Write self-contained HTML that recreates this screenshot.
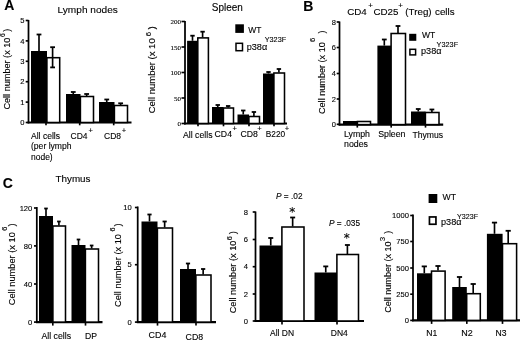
<!DOCTYPE html>
<html><head><meta charset="utf-8"><title>Figure</title>
<style>html,body{margin:0;padding:0;background:#fff}svg{display:block}text{font-family:"Liberation Sans", sans-serif}</style>
</head><body>
<svg width="520" height="340" viewBox="0 0 520 340">
<defs><filter id="soft" x="0" y="0" width="520" height="340" filterUnits="userSpaceOnUse"><feGaussianBlur stdDeviation="0.42"/></filter></defs>
<rect x="0" y="0" width="520" height="340" fill="#fff"/>
<g filter="url(#soft)">
<text x="4.3" y="10" font-size="14" font-weight="bold" fill="#000" stroke="#000" stroke-width="0.12">A</text>
<text x="57.6" y="13.2" font-size="9.9" textLength="60.2" lengthAdjust="spacingAndGlyphs" fill="#000" stroke="#000" stroke-width="0.12">Lymph nodes</text>
<line x1="28.5" y1="20" x2="28.5" y2="123.4" stroke="#000" stroke-width="1.75"/>
<line x1="27.6" y1="122.5" x2="131.5" y2="122.5" stroke="#000" stroke-width="2.15"/>
<line x1="25.7" y1="20.5" x2="28.5" y2="20.5" stroke="#000" stroke-width="1.65"/>
<text x="24.5" y="23.24" font-size="7.6" text-anchor="end" fill="#000" stroke="#000" stroke-width="0.12">5</text>
<line x1="25.7" y1="40.9" x2="28.5" y2="40.9" stroke="#000" stroke-width="1.65"/>
<text x="24.5" y="43.64" font-size="7.6" text-anchor="end" fill="#000" stroke="#000" stroke-width="0.12">4</text>
<line x1="25.7" y1="61.3" x2="28.5" y2="61.3" stroke="#000" stroke-width="1.65"/>
<text x="24.5" y="64.04" font-size="7.6" text-anchor="end" fill="#000" stroke="#000" stroke-width="0.12">3</text>
<line x1="25.7" y1="81.7" x2="28.5" y2="81.7" stroke="#000" stroke-width="1.65"/>
<text x="24.5" y="84.44" font-size="7.6" text-anchor="end" fill="#000" stroke="#000" stroke-width="0.12">2</text>
<line x1="25.7" y1="102.1" x2="28.5" y2="102.1" stroke="#000" stroke-width="1.65"/>
<text x="24.5" y="104.84" font-size="7.6" text-anchor="end" fill="#000" stroke="#000" stroke-width="0.12">1</text>
<line x1="25.7" y1="122.5" x2="28.5" y2="122.5" stroke="#000" stroke-width="1.65"/>
<text x="24.5" y="125.24" font-size="7.6" text-anchor="end" fill="#000" stroke="#000" stroke-width="0.12">0</text>
<line x1="46" y1="122.5" x2="46" y2="125.3" stroke="#000" stroke-width="1.65"/>
<line x1="79.7" y1="122.5" x2="79.7" y2="125.3" stroke="#000" stroke-width="1.65"/>
<line x1="113.7" y1="122.5" x2="113.7" y2="125.3" stroke="#000" stroke-width="1.65"/>
<line x1="39.0" y1="34.5" x2="39.0" y2="51" stroke="#000" stroke-width="1.65"/>
<line x1="36.6" y1="34.5" x2="41.4" y2="34.5" stroke="#000" stroke-width="1.8"/>
<rect x="31" y="51" width="16" height="71.5" fill="#000"/>
<line x1="52.6" y1="47.2" x2="52.6" y2="57.2" stroke="#000" stroke-width="1.65"/>
<line x1="50.2" y1="47.2" x2="55.0" y2="47.2" stroke="#000" stroke-width="1.8"/>
<rect x="46.9" y="57.7" width="12.8" height="64.8" fill="#fff" stroke="#000" stroke-width="1.55"/>
<line x1="52.6" y1="57.2" x2="52.6" y2="67.4" stroke="#000" stroke-width="1.65"/>
<line x1="50.2" y1="67.4" x2="55.0" y2="67.4" stroke="#000" stroke-width="1.8"/>
<line x1="73.25" y1="92" x2="73.25" y2="94" stroke="#000" stroke-width="1.65"/>
<line x1="70.85" y1="92" x2="75.65" y2="92" stroke="#000" stroke-width="1.8"/>
<rect x="66" y="94" width="14.5" height="28.5" fill="#000"/>
<line x1="86.65" y1="94" x2="86.65" y2="96" stroke="#000" stroke-width="1.65"/>
<line x1="84.25" y1="94" x2="89.05000000000001" y2="94" stroke="#000" stroke-width="1.8"/>
<rect x="80.4" y="96.5" width="13.1" height="26.0" fill="#fff" stroke="#000" stroke-width="1.55"/>
<line x1="106.75" y1="99.5" x2="106.75" y2="102" stroke="#000" stroke-width="1.65"/>
<line x1="104.35" y1="99.5" x2="109.15" y2="99.5" stroke="#000" stroke-width="1.8"/>
<rect x="99" y="102" width="15.5" height="20.5" fill="#000"/>
<line x1="120.65" y1="103.3" x2="120.65" y2="105" stroke="#000" stroke-width="1.65"/>
<line x1="118.25" y1="103.3" x2="123.05000000000001" y2="103.3" stroke="#000" stroke-width="1.8"/>
<rect x="114.4" y="105.5" width="13.1" height="17.0" fill="#fff" stroke="#000" stroke-width="1.55"/>
<text x="31" y="138.5" font-size="8.5" textLength="29" lengthAdjust="spacingAndGlyphs" fill="#000" stroke="#000" stroke-width="0.12">All cells</text>
<text x="31" y="149" font-size="8.5" textLength="40.5" lengthAdjust="spacingAndGlyphs" fill="#000" stroke="#000" stroke-width="0.12">(per lymph</text>
<text x="31" y="159.5" font-size="8.5" textLength="21.7" lengthAdjust="spacingAndGlyphs" fill="#000" stroke="#000" stroke-width="0.12">node)</text>
<text x="70.5" y="138.5" font-size="8.5" textLength="17" lengthAdjust="spacingAndGlyphs" fill="#000" stroke="#000" stroke-width="0.12">CD4</text>
<text x="88.38" y="132.75" font-size="7.6" fill="#000" stroke="#000" stroke-width="0.12">+</text>
<text x="104" y="138.5" font-size="8.5" textLength="17" lengthAdjust="spacingAndGlyphs" fill="#000" stroke="#000" stroke-width="0.12">CD8</text>
<text x="121.78" y="132.75" font-size="7.6" fill="#000" stroke="#000" stroke-width="0.12">+</text>
<text x="10.3" y="109.6" font-size="9.1" textLength="72.0" lengthAdjust="spacingAndGlyphs" transform="rotate(-90 10.3 109.6)" fill="#000" stroke="#000" stroke-width="0.12">Cell number (x 10</text>
<text x="5.2" y="36.9" font-size="6.82" transform="rotate(-90 5.2 36.9)" fill="#000" stroke="#000" stroke-width="0.12">6</text>
<text x="10.3" y="31.8" font-size="9.1" transform="rotate(-90 10.3 31.8)" fill="#000" stroke="#000" stroke-width="0.12">)</text>
<text x="211.8" y="11.3" font-size="10" textLength="31" lengthAdjust="spacingAndGlyphs" fill="#000" stroke="#000" stroke-width="0.12">Spleen</text>
<line x1="185" y1="21" x2="185" y2="124.4" stroke="#000" stroke-width="1.75"/>
<line x1="184.1" y1="123.5" x2="287" y2="123.5" stroke="#000" stroke-width="2.15"/>
<line x1="181.5" y1="21.5" x2="185" y2="21.5" stroke="#000" stroke-width="1.65"/>
<text x="181.1" y="24.02" font-size="7" text-anchor="end" style='font-family:"Liberation Serif", serif' fill="#000" stroke="#000" stroke-width="0.12">200</text>
<line x1="181.5" y1="47" x2="185" y2="47" stroke="#000" stroke-width="1.65"/>
<text x="181.1" y="49.52" font-size="7" text-anchor="end" style='font-family:"Liberation Serif", serif' fill="#000" stroke="#000" stroke-width="0.12">150</text>
<line x1="181.5" y1="72.5" x2="185" y2="72.5" stroke="#000" stroke-width="1.65"/>
<text x="181.1" y="75.02" font-size="7" text-anchor="end" style='font-family:"Liberation Serif", serif' fill="#000" stroke="#000" stroke-width="0.12">100</text>
<line x1="181.5" y1="98" x2="185" y2="98" stroke="#000" stroke-width="1.65"/>
<text x="181.1" y="100.52" font-size="7" text-anchor="end" style='font-family:"Liberation Serif", serif' fill="#000" stroke="#000" stroke-width="0.12">50</text>
<line x1="181.5" y1="123.5" x2="185" y2="123.5" stroke="#000" stroke-width="1.65"/>
<text x="181.1" y="126.02" font-size="7" text-anchor="end" style='font-family:"Liberation Serif", serif' fill="#000" stroke="#000" stroke-width="0.12">0</text>
<line x1="198" y1="123.5" x2="198" y2="126.3" stroke="#000" stroke-width="1.65"/>
<line x1="223.5" y1="123.5" x2="223.5" y2="126.3" stroke="#000" stroke-width="1.65"/>
<line x1="249" y1="123.5" x2="249" y2="126.3" stroke="#000" stroke-width="1.65"/>
<line x1="274" y1="123.5" x2="274" y2="126.3" stroke="#000" stroke-width="1.65"/>
<line x1="192.5" y1="35.7" x2="192.5" y2="40.8" stroke="#000" stroke-width="1.65"/>
<line x1="190.3" y1="35.7" x2="194.7" y2="35.7" stroke="#000" stroke-width="1.8"/>
<rect x="187.1" y="40.8" width="10.9" height="82.7" fill="#000"/>
<line x1="202.6" y1="31.7" x2="202.6" y2="37.4" stroke="#000" stroke-width="1.65"/>
<line x1="200.4" y1="31.7" x2="204.79999999999998" y2="31.7" stroke="#000" stroke-width="1.8"/>
<rect x="197.8" y="37.9" width="10.6" height="85.6" fill="#fff" stroke="#000" stroke-width="1.55"/>
<line x1="217.75" y1="105" x2="217.75" y2="107" stroke="#000" stroke-width="1.65"/>
<line x1="215.55" y1="105" x2="219.95" y2="105" stroke="#000" stroke-width="1.8"/>
<rect x="212" y="107" width="11.5" height="16.5" fill="#000"/>
<line x1="228.14999999999998" y1="106" x2="228.14999999999998" y2="107.5" stroke="#000" stroke-width="1.65"/>
<line x1="225.95" y1="106" x2="230.34999999999997" y2="106" stroke="#000" stroke-width="1.8"/>
<rect x="223.4" y="108.0" width="10.1" height="15.5" fill="#fff" stroke="#000" stroke-width="1.55"/>
<line x1="243.25" y1="110.5" x2="243.25" y2="114.5" stroke="#000" stroke-width="1.65"/>
<line x1="241.05" y1="110.5" x2="245.45" y2="110.5" stroke="#000" stroke-width="1.8"/>
<rect x="237.5" y="114.5" width="11.5" height="9.0" fill="#000"/>
<line x1="253.89999999999998" y1="112" x2="253.89999999999998" y2="116" stroke="#000" stroke-width="1.65"/>
<line x1="251.7" y1="112" x2="256.09999999999997" y2="112" stroke="#000" stroke-width="1.8"/>
<rect x="248.9" y="116.5" width="10.6" height="7.0" fill="#fff" stroke="#000" stroke-width="1.55"/>
<line x1="268.5" y1="72" x2="268.5" y2="73.5" stroke="#000" stroke-width="1.65"/>
<line x1="266.3" y1="72" x2="270.7" y2="72" stroke="#000" stroke-width="1.8"/>
<rect x="263" y="73.5" width="11" height="50.0" fill="#000"/>
<line x1="278.9" y1="69" x2="278.9" y2="72.5" stroke="#000" stroke-width="1.65"/>
<line x1="276.7" y1="69" x2="281.09999999999997" y2="69" stroke="#000" stroke-width="1.8"/>
<rect x="273.9" y="73.0" width="10.6" height="50.5" fill="#fff" stroke="#000" stroke-width="1.55"/>
<text x="183" y="137.5" font-size="8.5" textLength="29.5" lengthAdjust="spacingAndGlyphs" fill="#000" stroke="#000" stroke-width="0.12">All cells</text>
<text x="214.6" y="137.4" font-size="8.7" textLength="17.4" lengthAdjust="spacingAndGlyphs" fill="#000" stroke="#000" stroke-width="0.12">CD4</text>
<text x="232.38" y="131.15" font-size="7.6" fill="#000" stroke="#000" stroke-width="0.12">+</text>
<text x="240.4" y="137.4" font-size="8.7" textLength="17.4" lengthAdjust="spacingAndGlyphs" fill="#000" stroke="#000" stroke-width="0.12">CD8</text>
<text x="257.18" y="131.15" font-size="7.6" fill="#000" stroke="#000" stroke-width="0.12">+</text>
<text x="265.8" y="137.4" font-size="8.7" textLength="19.4" lengthAdjust="spacingAndGlyphs" fill="#000" stroke="#000" stroke-width="0.12">B220</text>
<text x="284.78" y="131.15" font-size="7.6" fill="#000" stroke="#000" stroke-width="0.12">+</text>
<text x="155.3" y="113.3" font-size="9.5" textLength="75.0" lengthAdjust="spacingAndGlyphs" transform="rotate(-90 155.3 113.3)" fill="#000" stroke="#000" stroke-width="0.12">Cell number (x 10</text>
<text x="150.6" y="36.2" font-size="7.6" transform="rotate(-90 150.6 36.2)" fill="#000" stroke="#000" stroke-width="0.12">6</text>
<text x="155.3" y="29.4" font-size="9.5" transform="rotate(-90 155.3 29.4)" fill="#000" stroke="#000" stroke-width="0.12">)</text>
<rect x="235.3" y="24.3" width="8.6" height="8.6" fill="#000" stroke="#000" stroke-width="0"/>
<text x="248.2" y="32.5" font-size="8.6" textLength="13.2" lengthAdjust="spacingAndGlyphs" fill="#000" stroke="#000" stroke-width="0.12">WT</text>
<rect x="236" y="43.3" width="6.5" height="7.4" fill="#fff" stroke="#000" stroke-width="1.5"/>
<text x="246.7" y="49.8" font-size="8.8" textLength="20.5" lengthAdjust="spacingAndGlyphs" fill="#000" stroke="#000" stroke-width="0.12">p38α</text>
<text x="264.7" y="42.3" font-size="7.4" textLength="21.5" lengthAdjust="spacingAndGlyphs" fill="#000" stroke="#000" stroke-width="0.12">Y323F</text>
<text x="303.3" y="10.8" font-size="14" font-weight="bold" fill="#000" stroke="#000" stroke-width="0.12">B</text>
<text x="347.2" y="15.3" font-size="9.8" fill="#000" stroke="#000" stroke-width="0.12">CD4</text>
<text x="368.36" y="8.08" font-size="8" fill="#000" stroke="#000" stroke-width="0.12">+</text>
<text x="373.4" y="15.3" font-size="9.8" fill="#000" stroke="#000" stroke-width="0.12">CD25</text>
<text x="398.36" y="8.08" font-size="8" fill="#000" stroke="#000" stroke-width="0.12">+</text>
<text x="405.3" y="15.3" font-size="9.8" fill="#000" stroke="#000" stroke-width="0.12">(Treg)</text>
<text x="435" y="15.3" font-size="9.8" fill="#000" stroke="#000" stroke-width="0.12">cells</text>
<line x1="339.5" y1="21.5" x2="339.5" y2="125.5" stroke="#000" stroke-width="1.75"/>
<line x1="338.6" y1="124.6" x2="443.2" y2="124.6" stroke="#000" stroke-width="2.15"/>
<line x1="336.7" y1="22" x2="339.5" y2="22" stroke="#000" stroke-width="1.65"/>
<text x="336.0" y="24.7" font-size="7.5" text-anchor="end" fill="#000" stroke="#000" stroke-width="0.12">8</text>
<line x1="336.7" y1="47.5" x2="339.5" y2="47.5" stroke="#000" stroke-width="1.65"/>
<text x="336.0" y="50.2" font-size="7.5" text-anchor="end" fill="#000" stroke="#000" stroke-width="0.12">6</text>
<line x1="336.7" y1="73.5" x2="339.5" y2="73.5" stroke="#000" stroke-width="1.65"/>
<text x="336.0" y="76.2" font-size="7.5" text-anchor="end" fill="#000" stroke="#000" stroke-width="0.12">4</text>
<line x1="336.7" y1="99" x2="339.5" y2="99" stroke="#000" stroke-width="1.65"/>
<text x="336.0" y="101.7" font-size="7.5" text-anchor="end" fill="#000" stroke="#000" stroke-width="0.12">2</text>
<line x1="336.7" y1="124.3" x2="339.5" y2="124.3" stroke="#000" stroke-width="1.65"/>
<text x="336.0" y="127.0" font-size="7.5" text-anchor="end" fill="#000" stroke="#000" stroke-width="0.12">0</text>
<line x1="357.3" y1="124.6" x2="357.3" y2="127.6" stroke="#000" stroke-width="1.65"/>
<line x1="391.2" y1="124.6" x2="391.2" y2="127.6" stroke="#000" stroke-width="1.65"/>
<line x1="425.5" y1="124.6" x2="425.5" y2="127.6" stroke="#000" stroke-width="1.65"/>
<rect x="343" y="121" width="14.5" height="3.6" fill="#000"/>
<rect x="357.4" y="121.5" width="13.1" height="3.1" fill="#fff" stroke="#000" stroke-width="1.55"/>
<line x1="384.29999999999995" y1="39.5" x2="384.29999999999995" y2="45.6" stroke="#000" stroke-width="1.65"/>
<line x1="381.9" y1="39.5" x2="386.69999999999993" y2="39.5" stroke="#000" stroke-width="1.8"/>
<rect x="377.4" y="45.6" width="13.8" height="79.0" fill="#000"/>
<line x1="397.99999999999994" y1="26" x2="397.99999999999994" y2="33" stroke="#000" stroke-width="1.65"/>
<line x1="395.59999999999997" y1="26" x2="400.3999999999999" y2="26" stroke="#000" stroke-width="1.8"/>
<rect x="391.09999999999997" y="33.5" width="14.4" height="91.1" fill="#fff" stroke="#000" stroke-width="1.55"/>
<line x1="418.25" y1="109" x2="418.25" y2="111.5" stroke="#000" stroke-width="1.65"/>
<line x1="415.85" y1="109" x2="420.65" y2="109" stroke="#000" stroke-width="1.8"/>
<rect x="411" y="111.5" width="14.5" height="13.1" fill="#000"/>
<line x1="431.9" y1="109.5" x2="431.9" y2="112" stroke="#000" stroke-width="1.65"/>
<line x1="429.5" y1="109.5" x2="434.29999999999995" y2="109.5" stroke="#000" stroke-width="1.8"/>
<rect x="425.4" y="112.5" width="13.6" height="12.1" fill="#fff" stroke="#000" stroke-width="1.55"/>
<text x="344" y="137" font-size="8.5" textLength="26" lengthAdjust="spacingAndGlyphs" fill="#000" stroke="#000" stroke-width="0.12">Lymph</text>
<text x="344" y="147" font-size="8.5" textLength="24" lengthAdjust="spacingAndGlyphs" fill="#000" stroke="#000" stroke-width="0.12">nodes</text>
<text x="378.2" y="137" font-size="8.6" textLength="27.3" lengthAdjust="spacingAndGlyphs" fill="#000" stroke="#000" stroke-width="0.12">Spleen</text>
<text x="412.4" y="138" font-size="8.6" textLength="30.6" lengthAdjust="spacingAndGlyphs" fill="#000" stroke="#000" stroke-width="0.12">Thymus</text>
<text x="324.6" y="114" font-size="9.1" textLength="71.8" lengthAdjust="spacingAndGlyphs" transform="rotate(-90 324.6 114)" fill="#000" stroke="#000" stroke-width="0.12">Cell number (x 10</text>
<text x="315.1" y="41.9" font-size="7.6" transform="rotate(-90 315.1 41.9)" fill="#000" stroke="#000" stroke-width="0.12">6</text>
<text x="324.6" y="33.4" font-size="9.1" transform="rotate(-90 324.6 33.4)" fill="#000" stroke="#000" stroke-width="0.12">)</text>
<rect x="409.2" y="33.8" width="7.1" height="7.0" fill="#000" stroke="#000" stroke-width="0"/>
<text x="421.9" y="38.2" font-size="8.6" textLength="13.3" lengthAdjust="spacingAndGlyphs" fill="#000" stroke="#000" stroke-width="0.12">WT</text>
<rect x="409.9" y="49.3" width="5.7" height="5.6" fill="#fff" stroke="#000" stroke-width="1.5"/>
<text x="421" y="53.8" font-size="8.8" textLength="20.5" lengthAdjust="spacingAndGlyphs" fill="#000" stroke="#000" stroke-width="0.12">p38α</text>
<text x="436.6" y="47.1" font-size="7.4" textLength="21.5" lengthAdjust="spacingAndGlyphs" fill="#000" stroke="#000" stroke-width="0.12">Y323F</text>
<text x="2.8" y="188.3" font-size="14" font-weight="bold" fill="#000" stroke="#000" stroke-width="0.12">C</text>
<text x="55.5" y="182" font-size="9.8" textLength="35" lengthAdjust="spacingAndGlyphs" fill="#000" stroke="#000" stroke-width="0.12">Thymus</text>
<line x1="36.8" y1="207" x2="36.8" y2="323.0" stroke="#000" stroke-width="1.75"/>
<line x1="35.9" y1="322.1" x2="102.5" y2="322.1" stroke="#000" stroke-width="2.15"/>
<line x1="34.0" y1="208" x2="36.8" y2="208" stroke="#000" stroke-width="1.65"/>
<text x="32.3" y="210.74" font-size="7.6" text-anchor="end" fill="#000" stroke="#000" stroke-width="0.12">120</text>
<line x1="34.0" y1="245.9" x2="36.8" y2="245.9" stroke="#000" stroke-width="1.65"/>
<text x="32.3" y="248.64" font-size="7.6" text-anchor="end" fill="#000" stroke="#000" stroke-width="0.12">80</text>
<line x1="34.0" y1="284" x2="36.8" y2="284" stroke="#000" stroke-width="1.65"/>
<text x="32.3" y="286.74" font-size="7.6" text-anchor="end" fill="#000" stroke="#000" stroke-width="0.12">40</text>
<line x1="34.0" y1="322.1" x2="36.8" y2="322.1" stroke="#000" stroke-width="1.65"/>
<text x="32.3" y="324.84" font-size="7.6" text-anchor="end" fill="#000" stroke="#000" stroke-width="0.12">0</text>
<line x1="52.8" y1="322.1" x2="52.8" y2="325.6" stroke="#000" stroke-width="1.65"/>
<line x1="85.5" y1="322.1" x2="85.5" y2="325.6" stroke="#000" stroke-width="1.65"/>
<line x1="46.0" y1="208.5" x2="46.0" y2="216" stroke="#000" stroke-width="1.65"/>
<line x1="44.2" y1="208.5" x2="47.8" y2="208.5" stroke="#000" stroke-width="1.8"/>
<rect x="39" y="216" width="14" height="106.1" fill="#000"/>
<line x1="58.900000000000006" y1="221.5" x2="58.900000000000006" y2="225.5" stroke="#000" stroke-width="1.65"/>
<line x1="57.10000000000001" y1="221.5" x2="60.7" y2="221.5" stroke="#000" stroke-width="1.8"/>
<rect x="52.9" y="226.0" width="12.6" height="96.1" fill="#fff" stroke="#000" stroke-width="1.55"/>
<line x1="78.5" y1="239.5" x2="78.5" y2="245" stroke="#000" stroke-width="1.65"/>
<line x1="76.7" y1="239.5" x2="80.3" y2="239.5" stroke="#000" stroke-width="1.8"/>
<rect x="71.5" y="245" width="14.0" height="77.1" fill="#000"/>
<line x1="91.65" y1="245.5" x2="91.65" y2="248.5" stroke="#000" stroke-width="1.65"/>
<line x1="89.85000000000001" y1="245.5" x2="93.45" y2="245.5" stroke="#000" stroke-width="1.8"/>
<rect x="85.4" y="249.0" width="13.1" height="73.1" fill="#fff" stroke="#000" stroke-width="1.55"/>
<text x="41.5" y="338.5" font-size="8.6" textLength="29.5" lengthAdjust="spacingAndGlyphs" fill="#000" stroke="#000" stroke-width="0.12">All cells</text>
<text x="85" y="338.5" font-size="8.8" textLength="12" lengthAdjust="spacingAndGlyphs" fill="#000" stroke="#000" stroke-width="0.12">DP</text>
<text x="14.6" y="305.2" font-size="9.25" textLength="73.0" lengthAdjust="spacingAndGlyphs" transform="rotate(-90 14.6 305.2)" fill="#000" stroke="#000" stroke-width="0.12">Cell number (x 10</text>
<text x="7.4" y="230.8" font-size="7.4" transform="rotate(-90 7.4 230.8)" fill="#000" stroke="#000" stroke-width="0.12">6</text>
<text x="14.6" y="226.4" font-size="9.25" transform="rotate(-90 14.6 226.4)" fill="#000" stroke="#000" stroke-width="0.12">)</text>
<line x1="137.7" y1="206.5" x2="137.7" y2="323.0" stroke="#000" stroke-width="1.75"/>
<line x1="136.79999999999998" y1="322.1" x2="216" y2="322.1" stroke="#000" stroke-width="2.15"/>
<line x1="134.89999999999998" y1="207.5" x2="137.7" y2="207.5" stroke="#000" stroke-width="1.65"/>
<text x="131.7" y="210.24" font-size="7.6" text-anchor="end" fill="#000" stroke="#000" stroke-width="0.12">10</text>
<line x1="134.89999999999998" y1="264.7" x2="137.7" y2="264.7" stroke="#000" stroke-width="1.65"/>
<text x="131.7" y="267.44" font-size="7.6" text-anchor="end" fill="#000" stroke="#000" stroke-width="0.12">5</text>
<line x1="134.89999999999998" y1="322.1" x2="137.7" y2="322.1" stroke="#000" stroke-width="1.65"/>
<text x="131.7" y="324.84" font-size="7.6" text-anchor="end" fill="#000" stroke="#000" stroke-width="0.12">0</text>
<line x1="157.5" y1="322.1" x2="157.5" y2="325.6" stroke="#000" stroke-width="1.65"/>
<line x1="196" y1="322.1" x2="196" y2="325.6" stroke="#000" stroke-width="1.65"/>
<line x1="149.5" y1="214.5" x2="149.5" y2="221.5" stroke="#000" stroke-width="1.65"/>
<line x1="147.4" y1="214.5" x2="151.6" y2="214.5" stroke="#000" stroke-width="1.8"/>
<rect x="141.5" y="221.5" width="16.0" height="100.6" fill="#000"/>
<line x1="164.64999999999998" y1="221.5" x2="164.64999999999998" y2="227.5" stroke="#000" stroke-width="1.65"/>
<line x1="162.54999999999998" y1="221.5" x2="166.74999999999997" y2="221.5" stroke="#000" stroke-width="1.8"/>
<rect x="157.4" y="228.0" width="15.1" height="94.1" fill="#fff" stroke="#000" stroke-width="1.55"/>
<line x1="188.0" y1="263.5" x2="188.0" y2="269" stroke="#000" stroke-width="1.65"/>
<line x1="185.9" y1="263.5" x2="190.1" y2="263.5" stroke="#000" stroke-width="1.8"/>
<rect x="180" y="269" width="16" height="53.1" fill="#000"/>
<line x1="203.14999999999998" y1="269" x2="203.14999999999998" y2="274.5" stroke="#000" stroke-width="1.65"/>
<line x1="201.04999999999998" y1="269" x2="205.24999999999997" y2="269" stroke="#000" stroke-width="1.8"/>
<rect x="195.9" y="275.0" width="15.1" height="47.1" fill="#fff" stroke="#000" stroke-width="1.55"/>
<text x="148.6" y="338" font-size="8.6" textLength="17.8" lengthAdjust="spacingAndGlyphs" fill="#000" stroke="#000" stroke-width="0.12">CD4</text>
<text x="185.6" y="339.5" font-size="8.6" textLength="17.6" lengthAdjust="spacingAndGlyphs" fill="#000" stroke="#000" stroke-width="0.12">CD8</text>
<text x="121.2" y="307" font-size="9.25" textLength="73" lengthAdjust="spacingAndGlyphs" transform="rotate(-90 121.2 307)" fill="#000" stroke="#000" stroke-width="0.12">Cell number (x 10</text>
<text x="115.2" y="231.6" font-size="7.4" transform="rotate(-90 115.2 231.6)" fill="#000" stroke="#000" stroke-width="0.12">6</text>
<text x="121.2" y="226.4" font-size="9.25" transform="rotate(-90 121.2 226.4)" fill="#000" stroke="#000" stroke-width="0.12">)</text>
<line x1="255.5" y1="211.5" x2="255.5" y2="321.9" stroke="#000" stroke-width="1.75"/>
<line x1="254.6" y1="321" x2="364" y2="321" stroke="#000" stroke-width="2.15"/>
<line x1="252.7" y1="212" x2="255.5" y2="212" stroke="#000" stroke-width="1.65"/>
<text x="248.1" y="214.74" font-size="7.6" text-anchor="end" fill="#000" stroke="#000" stroke-width="0.12">8</text>
<line x1="252.7" y1="239.5" x2="255.5" y2="239.5" stroke="#000" stroke-width="1.65"/>
<text x="248.1" y="242.24" font-size="7.6" text-anchor="end" fill="#000" stroke="#000" stroke-width="0.12">6</text>
<line x1="252.7" y1="266.7" x2="255.5" y2="266.7" stroke="#000" stroke-width="1.65"/>
<text x="248.1" y="269.44" font-size="7.6" text-anchor="end" fill="#000" stroke="#000" stroke-width="0.12">4</text>
<line x1="252.7" y1="294" x2="255.5" y2="294" stroke="#000" stroke-width="1.65"/>
<text x="248.1" y="296.74" font-size="7.6" text-anchor="end" fill="#000" stroke="#000" stroke-width="0.12">2</text>
<line x1="252.7" y1="321" x2="255.5" y2="321" stroke="#000" stroke-width="1.65"/>
<text x="248.1" y="323.74" font-size="7.6" text-anchor="end" fill="#000" stroke="#000" stroke-width="0.12">0</text>
<line x1="282" y1="321" x2="282" y2="324.5" stroke="#000" stroke-width="1.65"/>
<line x1="337" y1="321" x2="337" y2="324.5" stroke="#000" stroke-width="1.65"/>
<line x1="270.75" y1="238" x2="270.75" y2="245.5" stroke="#000" stroke-width="1.65"/>
<line x1="268.25" y1="238" x2="273.25" y2="238" stroke="#000" stroke-width="1.8"/>
<rect x="259.5" y="245.5" width="22.5" height="75.5" fill="#000"/>
<line x1="292.65" y1="217.5" x2="292.65" y2="226.5" stroke="#000" stroke-width="1.65"/>
<line x1="290.15" y1="217.5" x2="295.15" y2="217.5" stroke="#000" stroke-width="1.8"/>
<rect x="281.9" y="227.0" width="22.1" height="94.0" fill="#fff" stroke="#000" stroke-width="1.55"/>
<line x1="325.75" y1="266.4" x2="325.75" y2="272.5" stroke="#000" stroke-width="1.65"/>
<line x1="323.25" y1="266.4" x2="328.25" y2="266.4" stroke="#000" stroke-width="1.8"/>
<rect x="314.5" y="272.5" width="22.5" height="48.5" fill="#000"/>
<line x1="347.4" y1="245" x2="347.4" y2="254" stroke="#000" stroke-width="1.65"/>
<line x1="344.9" y1="245" x2="349.9" y2="245" stroke="#000" stroke-width="1.8"/>
<rect x="336.9" y="254.5" width="21.6" height="66.5" fill="#fff" stroke="#000" stroke-width="1.55"/>
<text x="270" y="336" font-size="8.5" textLength="24" lengthAdjust="spacingAndGlyphs" fill="#000" stroke="#000" stroke-width="0.12">All DN</text>
<text x="330.8" y="336.3" font-size="8.5" textLength="17" lengthAdjust="spacingAndGlyphs" fill="#000" stroke="#000" stroke-width="0.12">DN4</text>
<text x="236.4" y="313.3" font-size="9.25" textLength="72.7" lengthAdjust="spacingAndGlyphs" transform="rotate(-90 236.4 313.3)" fill="#000" stroke="#000" stroke-width="0.12">Cell number (x 10</text>
<text x="232.5" y="240.2" font-size="7.4" transform="rotate(-90 232.5 240.2)" fill="#000" stroke="#000" stroke-width="0.12">6</text>
<text x="236.4" y="234.2" font-size="9.25" transform="rotate(-90 236.4 234.2)" fill="#000" stroke="#000" stroke-width="0.12">)</text>
<text x="276" y="198.5" font-size="8.3" textLength="26.5" lengthAdjust="spacingAndGlyphs" fill="#000" stroke="#000" stroke-width="0.12"><tspan font-style="italic">P</tspan> = .02</text>
<text x="292.3" y="215.7" font-size="12" text-anchor="middle" style='font-family:"DejaVu Sans", sans-serif' fill="#000" stroke="#000" stroke-width="0.12">*</text>
<text x="329" y="226" font-size="8.3" textLength="31" lengthAdjust="spacingAndGlyphs" fill="#000" stroke="#000" stroke-width="0.12"><tspan font-style="italic">P</tspan> = .035</text>
<text x="346.7" y="241.5" font-size="12" text-anchor="middle" style='font-family:"DejaVu Sans", sans-serif' fill="#000" stroke="#000" stroke-width="0.12">*</text>
<line x1="413" y1="214.5" x2="413" y2="321.29999999999995" stroke="#000" stroke-width="1.75"/>
<line x1="412.1" y1="320.4" x2="520" y2="320.4" stroke="#000" stroke-width="2.15"/>
<line x1="410.2" y1="215.5" x2="413" y2="215.5" stroke="#000" stroke-width="1.65"/>
<text x="409" y="218.24" font-size="7.6" text-anchor="end" fill="#000" stroke="#000" stroke-width="0.12">1000</text>
<line x1="410.2" y1="241.5" x2="413" y2="241.5" stroke="#000" stroke-width="1.65"/>
<text x="409" y="244.24" font-size="7.6" text-anchor="end" fill="#000" stroke="#000" stroke-width="0.12">750</text>
<line x1="410.2" y1="268" x2="413" y2="268" stroke="#000" stroke-width="1.65"/>
<text x="409" y="270.74" font-size="7.6" text-anchor="end" fill="#000" stroke="#000" stroke-width="0.12">500</text>
<line x1="410.2" y1="294.2" x2="413" y2="294.2" stroke="#000" stroke-width="1.65"/>
<text x="409" y="296.94" font-size="7.6" text-anchor="end" fill="#000" stroke="#000" stroke-width="0.12">250</text>
<line x1="410.2" y1="320.4" x2="413" y2="320.4" stroke="#000" stroke-width="1.65"/>
<text x="409" y="323.14" font-size="7.6" text-anchor="end" fill="#000" stroke="#000" stroke-width="0.12">0</text>
<line x1="431.6" y1="320.4" x2="431.6" y2="323.9" stroke="#000" stroke-width="1.65"/>
<line x1="466.8" y1="320.4" x2="466.8" y2="323.9" stroke="#000" stroke-width="1.65"/>
<line x1="502.5" y1="320.4" x2="502.5" y2="323.9" stroke="#000" stroke-width="1.65"/>
<line x1="424.3" y1="266.4" x2="424.3" y2="273.3" stroke="#000" stroke-width="1.65"/>
<line x1="421.7" y1="266.4" x2="426.90000000000003" y2="266.4" stroke="#000" stroke-width="1.8"/>
<rect x="417" y="273.3" width="14.6" height="47.1" fill="#000"/>
<line x1="438.0" y1="266" x2="438.0" y2="270.6" stroke="#000" stroke-width="1.65"/>
<line x1="435.4" y1="266" x2="440.6" y2="266" stroke="#000" stroke-width="1.8"/>
<rect x="431.5" y="271.1" width="13.6" height="49.3" fill="#fff" stroke="#000" stroke-width="1.55"/>
<line x1="459.5" y1="277" x2="459.5" y2="287" stroke="#000" stroke-width="1.65"/>
<line x1="456.9" y1="277" x2="462.1" y2="277" stroke="#000" stroke-width="1.8"/>
<rect x="452.2" y="287" width="14.6" height="33.4" fill="#000"/>
<line x1="473.2" y1="284" x2="473.2" y2="293.2" stroke="#000" stroke-width="1.65"/>
<line x1="470.59999999999997" y1="284" x2="475.8" y2="284" stroke="#000" stroke-width="1.8"/>
<rect x="466.7" y="293.7" width="13.6" height="26.7" fill="#fff" stroke="#000" stroke-width="1.55"/>
<line x1="494.5" y1="222.6" x2="494.5" y2="233.8" stroke="#000" stroke-width="1.65"/>
<line x1="491.9" y1="222.6" x2="497.1" y2="222.6" stroke="#000" stroke-width="1.8"/>
<rect x="486.9" y="233.8" width="15.7" height="86.6" fill="#000"/>
<line x1="508.2" y1="230.8" x2="508.2" y2="243.2" stroke="#000" stroke-width="1.65"/>
<line x1="505.59999999999997" y1="230.8" x2="510.8" y2="230.8" stroke="#000" stroke-width="1.8"/>
<rect x="502.5" y="243.7" width="14.1" height="76.7" fill="#fff" stroke="#000" stroke-width="1.55"/>
<text x="426.2" y="336" font-size="8.8" textLength="11" lengthAdjust="spacingAndGlyphs" fill="#000" stroke="#000" stroke-width="0.12">N1</text>
<text x="461.2" y="336" font-size="8.8" textLength="11.5" lengthAdjust="spacingAndGlyphs" fill="#000" stroke="#000" stroke-width="0.12">N2</text>
<text x="495.6" y="336" font-size="8.8" textLength="11" lengthAdjust="spacingAndGlyphs" fill="#000" stroke="#000" stroke-width="0.12">N3</text>
<text x="391.4" y="312.7" font-size="9.0" textLength="71.2" lengthAdjust="spacingAndGlyphs" transform="rotate(-90 391.4 312.7)" fill="#000" stroke="#000" stroke-width="0.12">Cell number (x 10</text>
<text x="385.1" y="241.1" font-size="7.4" transform="rotate(-90 385.1 241.1)" fill="#000" stroke="#000" stroke-width="0.12">3</text>
<text x="391.4" y="233.8" font-size="9.0" transform="rotate(-90 391.4 233.8)" fill="#000" stroke="#000" stroke-width="0.12">)</text>
<rect x="428.6" y="194" width="8.7" height="9" fill="#000" stroke="#000" stroke-width="0"/>
<text x="442.6" y="199.7" font-size="8.6" textLength="13.5" lengthAdjust="spacingAndGlyphs" fill="#000" stroke="#000" stroke-width="0.12">WT</text>
<rect x="429.45" y="216.95" width="6.5" height="7.3" fill="#fff" stroke="#000" stroke-width="1.7"/>
<text x="441" y="225" font-size="8.8" textLength="20.5" lengthAdjust="spacingAndGlyphs" fill="#000" stroke="#000" stroke-width="0.12">p38α</text>
<text x="457" y="218.6" font-size="7.4" textLength="21" lengthAdjust="spacingAndGlyphs" fill="#000" stroke="#000" stroke-width="0.12">Y323F</text>
</g>
</svg>
</body></html>
